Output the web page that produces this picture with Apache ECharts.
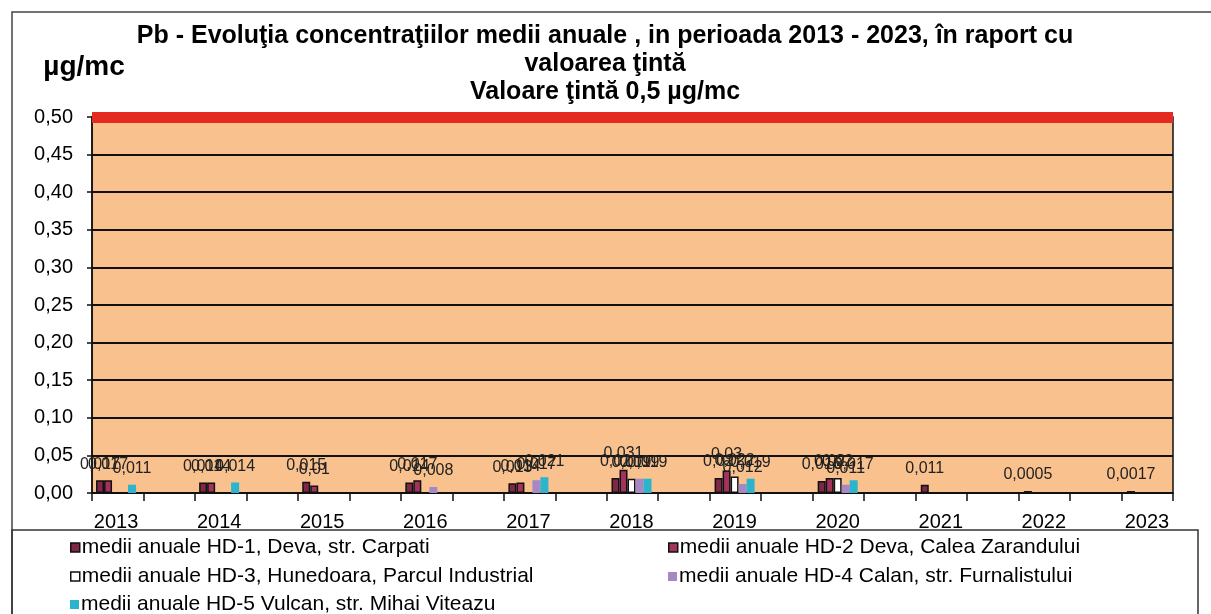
<!DOCTYPE html>
<html>
<head>
<meta charset="utf-8">
<title>Pb - evolutia concentratiilor medii anuale</title>
<script src="https://cdn.jsdelivr.net/npm/echarts@6.0.0/dist/echarts.min.js"></script>
<style>
  html, body { margin: 0; padding: 0; background: #fff; }
  #chart { width: 1211px; height: 614px; }
</style>
</head>
<body>
<div id="chart"></div>
<script>
// date (µg/mc)
var YEARS = ["2013", "2014", "2015", "2016", "2017", "2018", "2019", "2020", "2021", "2022", "2023"];
var HD1 = [0.017, 0.014, 0.015, 0.014, 0.013, 0.02, 0.02, 0.016, 0.011, 0.0005, 0.0017];
var HD2 = [0.017, 0.014, 0.01, 0.017, 0.014, 0.031, 0.03, 0.02, null, null, null];
var HD3 = [null, null, null, null, null, 0.019, 0.022, 0.02, null, null, null];
var HD4 = [null, null, null, 0.008, 0.017, 0.019, 0.012, 0.011, null, null, null];
var HD5 = [0.011, 0.014, null, null, 0.021, 0.019, 0.019, 0.017, null, null, null];
var TARGET = 0.5;
var Y_MAX = 0.5;
var Y_STEP = 0.05;
var TICK_SLOTS = 21;

var NAMES = [
  "medii anuale HD-1, Deva, str. Carpati",
  "medii anuale HD-2 Deva, Calea Zarandului",
  "medii anuale HD-3, Hunedoara, Parcul Industrial",
  "medii anuale HD-4 Calan, str. Furnalistului",
  "medii anuale HD-5 Vulcan, str. Mihai Viteazu"
];
var FILLS = ["#7e2746", "#a3325c", "#ffffff", "#a688c4", "#2bb4cc"];
var BORDERS = ["#111", "#111", "#111", null, null];
var SERIES_DATA = [HD1, HD2, HD3, HD4, HD5];

function comma(v) {
  return String(v).replace(".", ",");
}

var chart = echarts.init(document.getElementById("chart"));

var barSeries = SERIES_DATA.map(function (arr, i) {
  return {
    name: NAMES[i],
    type: "bar",
    xAxisIndex: 1,
    yAxisIndex: 1,
    data: arr,
    barWidth: 8,
    barGap: "0%",
    barMinHeight: 2,
    itemStyle: {
      color: FILLS[i],
      borderColor: BORDERS[i] || FILLS[i],
      borderWidth: BORDERS[i] ? 1.5 : 0
    },
    label: {
      show: true,
      position: "top",
      distance: 8,
      fontFamily: "Liberation Sans, Arial, sans-serif",
      fontSize: 16,
      color: "#222",
      formatter: function (p) { return comma(p.value); }
    },
    z: 3
  };
});

// linia valorii tinta
var targetSeries = {
  name: "valoare tinta",
  type: "scatter",
  xAxisIndex: 0,
  yAxisIndex: 0,
  data: [],
  clip: false,
  silent: true,
  markLine: {
    symbol: "none",
    silent: true,
    label: { show: false },
    lineStyle: { color: "#e42b22", width: 11, type: "solid" },
    data: [{ yAxis: TARGET }]
  },
  z: 4
};

var legendRows = [
  { left: 70, top: 537 },
  { left: 668, top: 537 },
  { left: 70, top: 566 },
  { left: 668, top: 566 },
  { left: 70, top: 594 }
];

var legends = NAMES.map(function (n, i) {
  return {
    data: [{
      name: n,
      icon: "rect",
      itemStyle: {
        color: FILLS[i],
        borderColor: BORDERS[i] || FILLS[i],
        borderWidth: BORDERS[i] ? 1.5 : 0
      }
    }],
    left: legendRows[i].left,
    top: legendRows[i].top,
    padding: 0,
    itemWidth: 9,
    itemHeight: 9,
    selectedMode: false,
    textStyle: {
      fontFamily: "Liberation Sans, Arial, sans-serif",
      fontSize: 21,
      color: "#000",
      padding: [0, 0, 0, -3]
    }
  };
});

chart.setOption({
  animation: false,
  backgroundColor: "#fff",
  textStyle: { fontFamily: "Liberation Sans, Arial, sans-serif" },
  title: {
    text: "Pb - Evoluţia concentraţiilor medii anuale , in perioada 2013 - 2023, în raport cu\nvaloarea ţintă\nValoare ţintă 0,5 µg/mc",
    left: 605,
    textAlign: "center",
    top: 22,
    padding: 0,
    textStyle: {
      fontFamily: "Liberation Sans, Arial, sans-serif",
      fontSize: 25,
      fontWeight: "bold",
      color: "#000",
      lineHeight: 28
    }
  },
  legend: legends,
  grid: [
    {
      left: 92, top: 117, width: 1081, height: 376,
      show: true, backgroundColor: "#f8c18d",
      borderColor: "#111", borderWidth: 1.5
    },
    { left: 64.5, top: 117, width: 1134, height: 376 }
  ],
  xAxis: [
    {
      gridIndex: 0,
      type: "value",
      min: 0,
      max: TICK_SLOTS,
      interval: 1,
      axisLine: { show: true, lineStyle: { color: "#111", width: 1.5 } },
      axisTick: { show: true, length: 8, lineStyle: { color: "#111", width: 1.5 } },
      axisLabel: { show: false },
      splitLine: { show: false }
    },
    {
      gridIndex: 1,
      type: "category",
      data: YEARS,
      axisLine: { show: false },
      axisTick: { show: false },
      axisLabel: { fontSize: 20, color: "#000", margin: 19 },
      splitLine: { show: false }
    }
  ],
  yAxis: [
    {
      gridIndex: 0,
      type: "value",
      min: 0,
      max: Y_MAX,
      interval: Y_STEP,
      name: "µg/mc",
      nameLocation: "end",
      nameGap: 36,
      nameTextStyle: {
        fontSize: 28, fontWeight: "bold", color: "#000",
        align: "center", padding: [0, 16, 0, 0]
      },
      axisLine: { show: true, lineStyle: { color: "#111", width: 1.5 } },
      axisTick: { show: true, length: 5, lineStyle: { color: "#111", width: 1.5 } },
      axisLabel: {
        fontSize: 20, color: "#000", margin: 19,
        formatter: function (v) { return v.toFixed(2).replace(".", ","); }
      },
      splitLine: { show: true, lineStyle: { color: "#111", width: 2 } }
    },
    { gridIndex: 1, type: "value", min: 0, max: Y_MAX, show: false }
  ],
  graphic: [
    {
      type: "rect",
      shape: { x: 12, y: 12, width: 1210, height: 620 },
      style: { fill: "none", stroke: "#444", lineWidth: 1.5 },
      silent: true
    },
    {
      type: "rect",
      shape: { x: 12, y: 530, width: 1186, height: 100 },
      style: { fill: "none", stroke: "#333", lineWidth: 1.5 },
      silent: true
    }
  ],
  series: [targetSeries].concat(barSeries)
});
</script>
</body>
</html>
